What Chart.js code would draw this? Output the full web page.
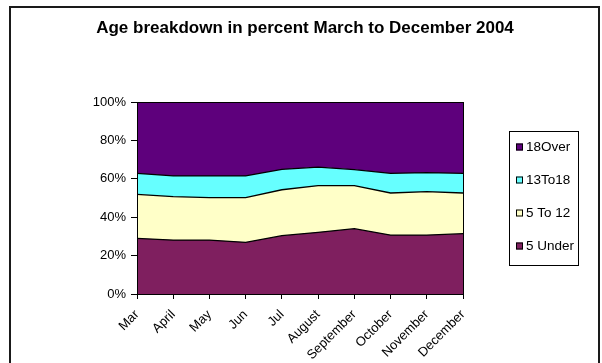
<!DOCTYPE html>
<html>
<head>
<meta charset="utf-8">
<script src="https://cdn.jsdelivr.net/npm/chart.js@4"></script>
<style>
    html, body { margin: 0; padding: 0; background: #ffffff; }
    #wrap { width: 602px; height: 363px; position: relative; }
</style>
</head>
<body>
<div id="wrap"><canvas id="ageChart" width="602" height="363"></canvas></div>
<script>
/* ===============================
   Data
=============================== */

const months = ["Mar", "April", "May", "Jun", "Jul", "August", "September", "October", "November", "December"];

const under5 = [29.0, 28.1, 28.1, 26.9, 30.4, 32.1, 34.0, 30.7, 30.7, 31.4];
const age5to12 = [22.9, 22.6, 22.1, 23.3, 23.9, 24.3, 22.4, 21.9, 22.6, 21.2];
const age13to18 = [10.9, 10.8, 11.3, 11.3, 10.6, 9.7, 8.4, 10.2, 9.9, 10.2];
const over18 = [37.2, 38.5, 38.5, 38.5, 35.1, 33.9, 35.2, 37.2, 36.8, 37.2];

const yTicks = [0, 20, 40, 60, 80, 100];

const chartTitle = "Age breakdown in percent March to December 2004";

const FONT = "'Liberation Sans', Arial, sans-serif";

/* ===============================
   Frame, title and legend
=============================== */

const decorPlugin = {
    id: "decor",
    afterDraw: function (chart) {
        const ctx = chart.ctx;
        const area = chart.chartArea;

        ctx.save();

        // outer frame (bottom edge is cut off in the picture)
        ctx.strokeStyle = "#1a1a1a";
        ctx.lineWidth = 2;
        ctx.beginPath();
        ctx.moveTo(10, 363);
        ctx.lineTo(10, 7);
        ctx.lineTo(599, 7);
        ctx.lineTo(599, 363);
        ctx.stroke();

        // plot border
        ctx.strokeStyle = "#000000";
        ctx.lineWidth = 1;
        ctx.strokeRect(area.left + 0.5, area.top + 0.5, area.right - area.left, area.bottom - area.top);

        // title
        ctx.fillStyle = "#000000";
        ctx.font = "bold 17px " + FONT;
        ctx.textAlign = "center";
        ctx.textBaseline = "middle";
        ctx.fillText(chartTitle, 305, 28);

        // legend box
        ctx.lineWidth = 1;
        ctx.strokeRect(509.5, 131.5, 69, 134);

        ctx.font = "13.5px " + FONT;
        ctx.textAlign = "left";

        const sets = chart.data.datasets.slice().reverse();

        sets.forEach(function (ds, i) {
            const y = 147.5 + i * 33;
            ctx.fillStyle = ds.backgroundColor;
            ctx.fillRect(516, y - 4, 7, 7);
            ctx.strokeStyle = "#000000";
            ctx.strokeRect(516.5, y - 3.5, 6, 6);
            ctx.fillStyle = "#000000";
            ctx.fillText(ds.label, 526, y);
        });

        ctx.restore();
    }
};

/* ===============================
   Chart
=============================== */

const ageChart = document.getElementById("ageChart");

function series(label, data, colour, fillMode) {
    return {
        label: label,
        data: data,
        backgroundColor: colour,
        borderColor: "#000000",
        borderWidth: 1.3,
        pointRadius: 0,
        tension: 0,
        fill: fillMode
    };
}

new Chart(ageChart, {

    type: "line",

    data: {
        labels: months,
        datasets: [
            series("5 Under", under5, "#7f1f5f", "origin"),
            series("5 To 12", age5to12, "#ffffc8", "-1"),
            series("13To18", age13to18, "#66ffff", "-1"),
            series("18Over", over18, "#5e007c", "-1")
        ]
    },

    options: {
        responsive: false,
        animation: false,
        layout: {
            padding: { left: 0, right: 139, top: 102, bottom: 0 }
        },
        plugins: {
            legend: { display: false },
            title: { display: false },
            tooltip: { enabled: false }
        },
        scales: {
            x: {
                offset: false,
                grid: {
                    display: true,
                    drawOnChartArea: false,
                    drawTicks: true,
                    tickLength: 5,
                    color: "#000000"
                },
                border: { display: true, color: "#000000" },
                ticks: {
                    autoSkip: false,
                    minRotation: 45,
                    maxRotation: 45,
                    padding: 8,
                    color: "#000000",
                    font: { family: FONT, size: 13 }
                },
                afterFit: function (scale) {
                    scale.height = 69;
                }
            },
            y: {
                stacked: true,
                min: 0,
                max: 100,
                afterBuildTicks: function (scale) {
                    scale.ticks = yTicks.map(function (v) { return { value: v }; });
                },
                grid: {
                    display: true,
                    drawOnChartArea: false,
                    drawTicks: true,
                    tickLength: 6,
                    color: "#000000"
                },
                border: { display: true, color: "#000000" },
                ticks: {
                    padding: 5,
                    color: "#000000",
                    font: { family: FONT, size: 13 },
                    callback: function (v) { return v + "%"; }
                },
                afterFit: function (scale) {
                    scale.width = 137;
                }
            }
        }
    },

    plugins: [decorPlugin]

});
</script>
</body>
</html>
